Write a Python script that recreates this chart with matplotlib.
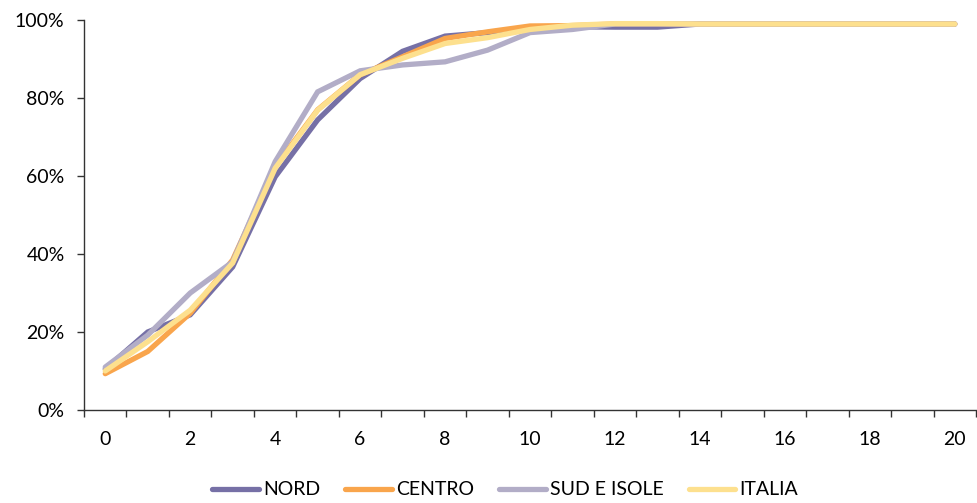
import numpy as np
import matplotlib.pyplot as plt
from matplotlib.ticker import FuncFormatter, MultipleLocator

plt.rcParams['font.family'] = ['Lato', 'DejaVu Sans']

anni = list(range(21))
nord = [10.5, 20.0, 24.4, 36.7, 59.8, 74.4, 85.0, 92.0, 95.9, 96.8, 98.2, 98.3,
        98.2, 98.2, 99.0, 99.0, 99.0, 99.0, 99.0, 99.0, 99.0]
centro = [9.3, 15.0, 24.8, 38.5, 62.4, 77.0, 86.0, 90.6, 95.3, 97.0, 98.5, 98.6,
          99.0, 99.0, 99.0, 99.0, 99.0, 99.0, 99.0, 99.0, 99.0]
sud_isole = [11.0, 19.2, 30.0, 38.0, 63.7, 81.6, 87.0, 88.5, 89.3, 92.3, 96.8, 97.6,
             99.0, 99.0, 99.0, 99.0, 99.0, 99.0, 99.0, 99.0, 99.0]
italia = [10.0, 17.5, 25.6, 37.7, 62.0, 76.9, 86.0, 90.2, 94.0, 95.5, 97.6, 98.7,
          99.1, 99.1, 99.0, 99.0, 99.0, 99.0, 99.0, 99.0, 99.0]

serie = [("NORD", nord, "#7670a6"),
         ("CENTRO", centro, "#f9a54c"),
         ("SUD E ISOLE", sud_isole, "#b2adc7"),
         ("ITALIA", italia, "#fde08e")]

fig = plt.figure(figsize=(9.77, 5.03), dpi=100)
ax = fig.add_axes([0.086, 0.185, 0.913, 0.775])

for nome, valori, colore in serie:
    ax.plot(anni, np.array(valori) / 100, color=colore, lw=3.8,
            solid_capstyle='round', solid_joinstyle='miter', label=nome)

ax.set_xlim(-0.5, 20.5)
ax.set_ylim(0, 1)
ax.yaxis.set_major_locator(MultipleLocator(0.2))
ax.yaxis.set_major_formatter(FuncFormatter(lambda v, p: f"{v*100:.0f}%"))

ax.set_xticks(range(0, 21, 2))
ax.set_xticks(np.arange(-0.5, 21, 1), minor=True)
ax.tick_params(axis='x', which='major', length=0, pad=15, labelsize=14)
ax.tick_params(axis='x', which='minor', length=5, width=1, color='#333333')
ax.tick_params(axis='y', length=5, width=1, color='#333333', labelsize=14, pad=9)

for s in ['top', 'right']:
    ax.spines[s].set_visible(False)
for s in ['left', 'bottom']:
    ax.spines[s].set_color('#333333')
    ax.spines[s].set_linewidth(1)

fig.legend(loc='center', bbox_to_anchor=(0.517, 0.026), ncol=4, frameon=False,
           fontsize=14, handlelength=2.4, handletextpad=0.2, columnspacing=1.3)

fig.savefig('out.png', dpi=100)
